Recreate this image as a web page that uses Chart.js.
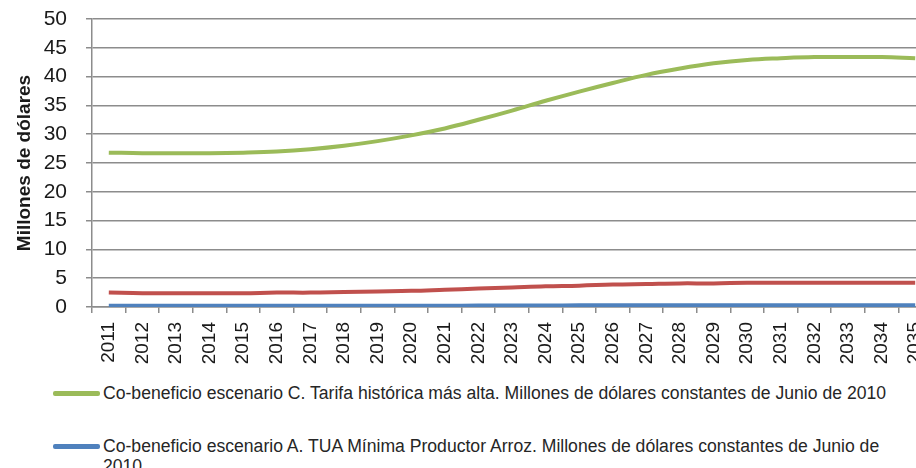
<!DOCTYPE html>
<html>
<head>
<meta charset="utf-8">
<script src="https://cdn.jsdelivr.net/npm/chart.js@4.4.0/dist/chart.umd.min.js"></script>
<style>
  html, body { margin: 0; padding: 0; background: #fff; overflow: hidden; }
  #wrap { position: relative; width: 916px; height: 468px; overflow: hidden; }
  #chart { position: absolute; left: 0; top: 0; }
  #legend { position: absolute; left: 53px; top: 383px; font-family: 'Liberation Sans', Arial, sans-serif; font-size: 17.6px; color: #262626; }
  .item { display: flex; align-items: flex-start; margin-bottom: 33px; }
  .swatch { width: 47px; height: 5px; border-radius: 2px; margin-top: 8px; flex: none; }
  .label { width: 800px; line-height: 20px; padding-left: 3px; }
</style>
</head>
<body>
<div id="wrap">
  <canvas id="chart" width="960" height="380"></canvas>
  <div id="legend"></div>
</div>
<script>
// years on the x axis
const years = ['2011','2012','2013','2014','2015','2016','2017','2018','2019','2020','2021','2022','2023',
               '2024','2025','2026','2027','2028','2029','2030','2031','2032','2033','2034','2035'];

// series, millions of constant USD (June 2010)
const escenarioC = [26.8, 26.7, 26.7, 26.7, 26.8, 27.0, 27.4, 28.0, 28.8, 29.8, 31.0, 32.5, 34.1,
                    35.8, 37.4, 38.9, 40.3, 41.4, 42.3, 42.9, 43.2, 43.4, 43.4, 43.4, 43.2];
const escenarioA = [0.2, 0.2, 0.2, 0.2, 0.2, 0.2, 0.2, 0.2, 0.2, 0.2, 0.2, 0.25, 0.25,
                    0.25, 0.3, 0.3, 0.3, 0.3, 0.3, 0.3, 0.3, 0.3, 0.3, 0.3, 0.3];
const escenarioB = [2.5, 2.4, 2.4, 2.4, 2.4, 2.5, 2.5, 2.6, 2.7, 2.8, 3.0, 3.2, 3.4,
                    3.6, 3.7, 3.9, 4.0, 4.1, 4.1, 4.2, 4.2, 4.2, 4.2, 4.2, 4.2];

const labelC = 'Co-beneficio escenario C. Tarifa histórica más alta. Millones de dólares constantes de Junio de 2010';
const labelA = 'Co-beneficio escenario A. TUA Mínima Productor Arroz. Millones de dólares constantes de Junio de 2010';
const labelB = 'Co-beneficio escenario B. Tarifa promedio. Millones de dólares constantes de Junio de 2010';

const yTicks = [0, 5, 10, 15, 20, 25, 30, 35, 40, 45, 50];

const gridColor = '#8c8c8c';
const fontFamily = "'Liberation Sans', Arial, sans-serif";

function line(label, data, color) {
    return {
        label: label,
        data: data,
        borderColor: color,
        backgroundColor: color,
        borderWidth: 4,
        pointRadius: 0,
        tension: 0.4,
        fill: false
    };
}

// legend drawn as html below the canvas, one entry per line
const htmlLegend = {
    id: 'htmlLegend',
    afterUpdate(chart) {
        const box = document.getElementById('legend');
        box.innerHTML = '';
        chart.data.datasets.forEach(function (ds) {
            const item = document.createElement('div');
            item.className = 'item';
            const sw = document.createElement('span');
            sw.className = 'swatch';
            sw.style.background = ds.borderColor;
            const txt = document.createElement('span');
            txt.className = 'label';
            txt.textContent = ds.label;
            item.appendChild(sw);
            item.appendChild(txt);
            box.appendChild(item);
        });
    }
};

new Chart(document.getElementById('chart'), {
    type: 'line',
    data: {
        labels: years,
        datasets: [
            line(labelC, escenarioC, '#9bbb59'),
            line(labelA, escenarioA, '#4f81bd'),
            line(labelB, escenarioB, '#c0504d')
        ]
    },
    options: {
        responsive: false,
        animation: false,
        layout: { padding: { top: 19, right: 28, left: 0, bottom: 0 } },
        plugins: {
            legend: { display: false },
            tooltip: { enabled: false }
        },
        scales: {
            x: {
                offset: true,
                afterFit(scale) { scale.height = 73; },
                grid: {
                    offset: true,
                    drawOnChartArea: false,
                    tickLength: 6,
                    color: gridColor,
                    lineWidth: 1.5
                },
                border: { color: gridColor, width: 1.5 },
                ticks: {
                    autoSkip: false,
                    minRotation: 90,
                    maxRotation: 90,
                    padding: 9,
                    color: '#1a1a1a',
                    font: { family: fontFamily, size: 19 }
                }
            },
            y: {
                min: 0,
                max: 50,
                afterFit(scale) {
                    scale.width = 92;
                    // tick padding should not push the plot down
                    scale.paddingTop = 0;
                    scale.paddingBottom = 0;
                },
                afterBuildTicks(scale) { scale.ticks = yTicks.map(v => ({ value: v })); },
                grid: {
                    tickLength: 6,
                    color: gridColor,
                    lineWidth: 1.5
                },
                border: { color: gridColor, width: 1.5 },
                ticks: {
                    autoSkip: false,
                    padding: 19,
                    color: '#1a1a1a',
                    font: { family: fontFamily, size: 21 }
                },
                title: {
                    display: true,
                    text: 'Millones de dólares',
                    color: '#1a1a1a',
                    padding: { top: 13, bottom: 0 },
                    font: { family: fontFamily, size: 19, weight: 'bold' }
                }
            }
        }
    },
    plugins: [htmlLegend]
});
</script>
</body>
</html>
